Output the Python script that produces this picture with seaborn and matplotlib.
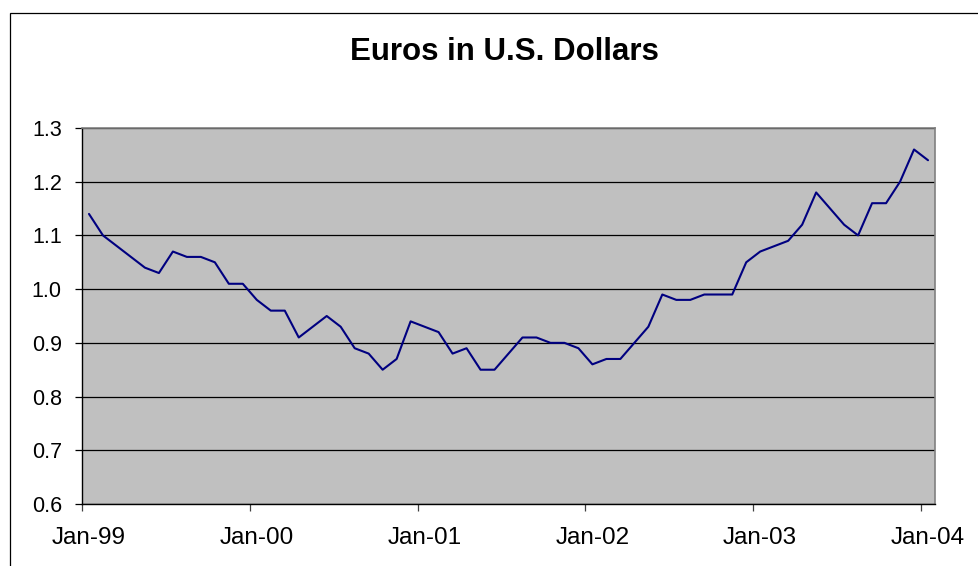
import matplotlib
matplotlib.use("Agg")
import matplotlib.pyplot as plt
import matplotlib.patches as mpatches
import numpy as np
import pandas as pd
import seaborn as sns

# Monthly Euro in USD, Jan-1999 .. Jan-2004
rate_1999 = [1.14, 1.10, 1.08, 1.06, 1.04, 1.03, 1.07, 1.06, 1.06, 1.05, 1.01, 1.01]
rate_2000 = [0.98, 0.96, 0.96, 0.91, 0.93, 0.95, 0.93, 0.89, 0.88, 0.85, 0.87, 0.94]
rate_2001 = [0.93, 0.92, 0.88, 0.89, 0.85, 0.85, 0.88, 0.91, 0.91, 0.90, 0.90, 0.89]
rate_2002 = [0.86, 0.87, 0.87, 0.90, 0.93, 0.99, 0.98, 0.98, 0.99, 0.99, 0.99, 1.05]
rate_2003 = [1.07, 1.08, 1.09, 1.12, 1.18, 1.15, 1.12, 1.10, 1.16, 1.16, 1.20, 1.26]
rate_2004 = [1.24]

tick_labels = ["Jan-99", "Jan-00", "Jan-01", "Jan-02", "Jan-03", "Jan-04"]
y_ticks = [0.6, 0.7, 0.8, 0.9, 1.0, 1.1, 1.2, 1.3]
title = "Euros in U.S. Dollars"

values = rate_1999 + rate_2000 + rate_2001 + rate_2002 + rate_2003 + rate_2004
months = np.arange(len(values)) + 0.5  # plotted mid-month on a date axis
df = pd.DataFrame({"month": months, "rate": values})

sns.set_style("white")
plt.rcParams["font.family"] = ["Liberation Sans", "DejaVu Sans"]
plt.rcParams["text.color"] = "black"
plt.rcParams["xtick.color"] = "black"
plt.rcParams["ytick.color"] = "black"

fig = plt.figure(figsize=(9.79, 5.66), dpi=100)
W, H = 979, 566
left, right, top, bottom = 82, 935, 128, 504
ax = fig.add_axes([left / W, 1 - bottom / H, (right - left) / W, (bottom - top) / H])
ax.set_facecolor("#C0C0C0")

sns.lineplot(data=df, x="month", y="rate", ax=ax, color="#000080", linewidth=1.5)

ax.set_xlim(0, 61)
ax.set_ylim(0.6, 1.3)
year_starts = [0, 12, 24, 36, 48, 60]
# tick marks at the start of each year, labels centred on that month
ax.set_xticks(year_starts)
ax.set_xticklabels([""] * len(year_starts))
ax.set_xticks([m + 0.5 for m in year_starts], minor=True)
ax.set_xticklabels(tick_labels, minor=True)
ax.set_yticks(y_ticks)
ax.set_yticklabels([f"{v:.1f}" for v in y_ticks])
ax.set_xlabel("")
ax.set_ylabel("")

ax.grid(axis="y", color="black", linewidth=0.9)
ax.grid(axis="x", visible=False)
ax.set_axisbelow(True)

for s in ["top", "right"]:
    ax.spines[s].set_color("#808080")
    ax.spines[s].set_linewidth(1.2)
for s in ["left", "bottom"]:
    ax.spines[s].set_color("black")
    ax.spines[s].set_linewidth(1.0)

ax.tick_params(axis="y", direction="out", length=5, width=0.9, color="black",
               pad=9.5, labelsize=15.5, left=True)
ax.tick_params(axis="x", which="major", direction="out", length=5, width=0.9,
               color="#404040", bottom=True)
ax.tick_params(axis="x", which="minor", length=0, pad=16.5, labelsize=17.5,
               bottom=True)

fig.text(504 / W, 1 - 59.5 / H, title, ha="center", va="baseline",
         fontsize=22.5, fontweight="bold")

# outer chart border
border = mpatches.Rectangle((10 / W, -0.1), 2, 1 - 13 / H + 0.1,
                            transform=fig.transFigure, fill=False,
                            edgecolor="black", linewidth=0.9, clip_on=False)
fig.patches.append(border)

fig.savefig("out.png", dpi=100)
